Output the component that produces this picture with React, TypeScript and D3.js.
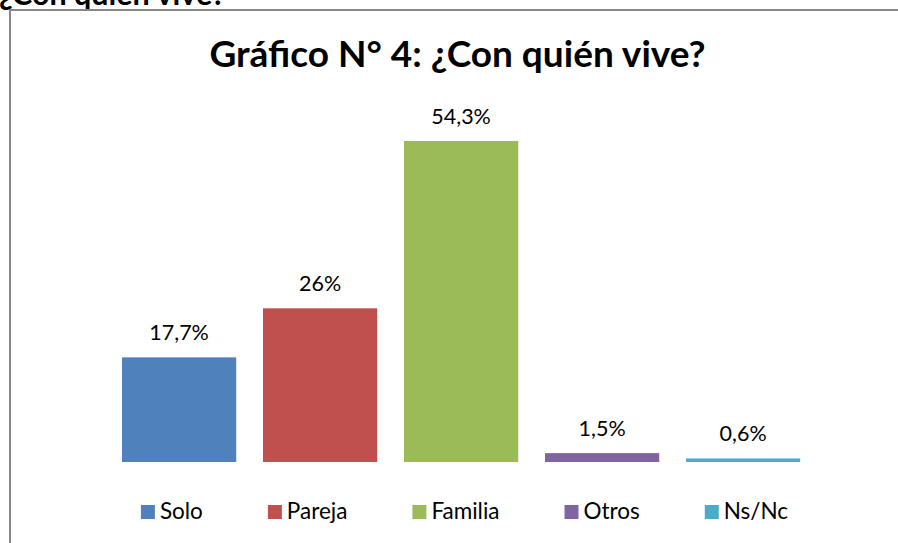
import React, { useEffect, useRef } from "react";
import * as d3 from "d3";

const categories = ["Solo", "Pareja", "Familia", "Otros", "Ns/Nc"];
const values = [17.7, 26, 54.3, 1.5, 0.6];
const valueLabels = ["17,7%", "26%", "54,3%", "1,5%", "0,6%"];
const colors = ["#4F81BD", "#C0504D", "#9BBB59", "#8064A2", "#4BACC6"];
const titleText = "Gráfico N° 4: ¿Con quién vive?";
const headingText = "¿Con quién vive?";

const W = 898;
const H = 543;
const FONT = "Lato, 'Noto Sans', sans-serif";

export default function App() {
  const ref = useRef<SVGSVGElement>(null);

  useEffect(() => {
    const svg = d3.select(ref.current);
    svg.selectAll("*").remove();

    // clipped heading above the chart frame
    svg.append("text")
      .attr("x", -1)
      .attr("y", 5)
      .attr("font-family", FONT)
      .attr("font-weight", 700)
      .attr("font-size", 30.5)
      .attr("fill", "#000")
      .text(headingText);

    // chart frame
    svg.append("rect")
      .attr("x", 10)
      .attr("y", 10)
      .attr("width", W + 20)
      .attr("height", H + 20)
      .attr("fill", "#fff")
      .attr("stroke", "#878787")
      .attr("stroke-width", 2);

    // title
    svg.append("text")
      .attr("x", 457.5)
      .attr("y", 67)
      .attr("text-anchor", "middle")
      .attr("font-family", FONT)
      .attr("font-weight", 700)
      .attr("font-size", 37)
      .attr("fill", "#000")
      .text(titleText);

    const x = d3.scaleBand<string>()
      .domain(categories)
      .range([108.6, 813.6])
      .paddingInner(0.19)
      .paddingOuter(0.095);

    const y = d3.scaleLinear().domain([0, 60]).range([462, 107.3]);

    const g = svg.append("g");
    categories.forEach((c, i) => {
      g.append("rect")
        .attr("x", x(c)!)
        .attr("y", y(values[i]))
        .attr("width", x.bandwidth())
        .attr("height", y(0) - y(values[i]))
        .attr("fill", colors[i]);
      g.append("text")
        .attr("x", x(c)! + x.bandwidth() / 2)
        .attr("y", y(values[i]) - 17)
        .attr("text-anchor", "middle")
        .attr("font-family", FONT)
        .attr("font-size", 21.5)
        .attr("fill", "#000")
        .text(valueLabels[i]);
    });

    // legend
    const sq = 14;
    const gapSq = 5;
    const gapItem = 65;
    const legend = svg.append("g");
    const items = categories.map((c, i) => {
      const it = legend.append("g");
      it.append("rect")
        .attr("x", 0)
        .attr("y", -sq)
        .attr("width", sq)
        .attr("height", sq)
        .attr("fill", colors[i]);
      const t = it.append("text")
        .attr("x", sq + gapSq)
        .attr("y", 0)
        .attr("font-family", FONT)
        .attr("font-size", 22.5)
        .attr("fill", "#000")
        .text(c);
      const w = sq + gapSq + (t.node() as SVGTextElement).getComputedTextLength();
      return { it, w };
    });
    const total = d3.sum(items, (d) => d.w) + gapItem * (items.length - 1);
    let cx = 464.5 - total / 2;
    items.forEach((d) => {
      d.it.attr("transform", `translate(${cx},519)`);
      cx += d.w + gapItem;
    });
  }, []);

  return (
    <svg
      ref={ref}
      width={W}
      height={H}
      style={{ position: "absolute", left: 0, top: 0, background: "#fff" }}
    />
  );
}
